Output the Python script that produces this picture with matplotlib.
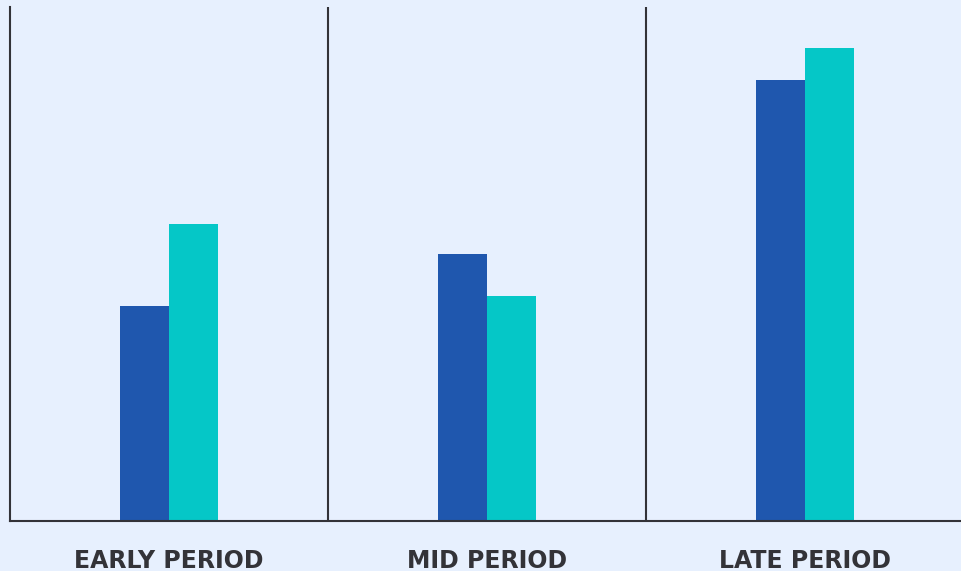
import matplotlib.pyplot as plt
import numpy as np

periods = ['EARLY PERIOD', 'MID PERIOD', 'LATE PERIOD']
series_a = [41.8, 51.9, 85.8]
series_b = [57.8, 43.8, 92.0]

bg = '#e7f0fe'
dark = '#333338'

fig = plt.figure(figsize=(9.61, 5.71), dpi=100)
fig.patch.set_facecolor(bg)
ax = fig.add_axes([10 / 961, 50 / 571, 954 / 961, 514 / 571])
ax.set_facecolor(bg)

x = np.arange(len(periods))
w = 0.155
ax.bar(x - w / 2, series_a, width=w, color='#1f57ae', zorder=2)
ax.bar(x + w / 2, series_b, width=w, color='#05c7c7', zorder=2)

# group separators
for b in x[:-1] + 0.5:
    ax.axvline(b, color=dark, lw=1.5, zorder=1)

ax.set_xlim(-0.5, len(periods) - 0.5)
ax.set_ylim(0, 100)
ax.set_yticks([])
ax.set_xticks(x)
ax.set_xticklabels(periods, fontfamily='DejaVu Sans', fontweight='bold',
                   fontsize=17, color=dark)
ax.tick_params(axis='x', length=0, pad=20)

for s in ['top', 'right']:
    ax.spines[s].set_visible(False)
for s in ['left', 'bottom']:
    ax.spines[s].set_color(dark)
    ax.spines[s].set_linewidth(1.5)

fig.savefig('out.png', dpi=100, facecolor=bg)
